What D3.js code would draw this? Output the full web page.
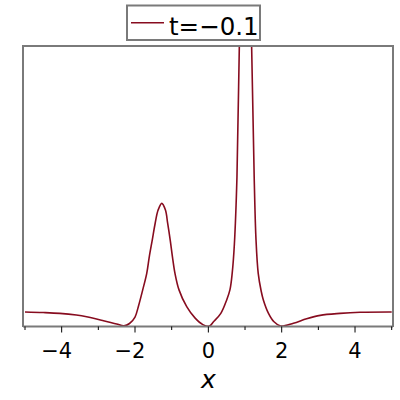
<!DOCTYPE html>
<html>
<head>
<meta charset="utf-8">
<script src="https://cdn.jsdelivr.net/npm/d3@7"></script>
<style>
  html, body { margin: 0; padding: 0; background: #fff; }
  svg { display: block; font-family: "DejaVu Sans", sans-serif; }
</style>
</head>
<body>
<div id="chart"></div>
<script>
// curve, t = -0.1 (y has no labels, arbitrary units)
const xs = [-5, -4.5, -4.05, -3.6, -3.32, -2.86, -2.5, -2.3, -2.15, -2.0, -1.91, -1.79,
  -1.68, -1.61, -1.53, -1.45, -1.37, -1.27, -1.17, -1.11, -1.04, -0.98, -0.91, -0.8,
  -0.59, -0.36, -0.15, 0.03, 0.14, 0.34, 0.5, 0.59, 0.65, 0.71, 0.78, 0.845, 0.93,
  1.01, 1.09, 1.18, 1.25, 1.3, 1.36, 1.44, 1.5, 1.64, 1.79, 1.97, 2.32, 2.68, 3.05, 3.59,
  4.14, 5];
const ys = [0.05, 0.048, 0.045, 0.039, 0.033, 0.019, 0.007, 0.001, 0.009, 0.032, 0.069, 0.129,
  0.188, 0.248, 0.307, 0.367, 0.414, 0.438, 0.414, 0.367, 0.307, 0.248, 0.188, 0.129,
  0.069, 0.028, 0.005, 0.0, 0.015, 0.045, 0.093, 0.13, 0.188, 0.293, 0.531, 1.0, 1.5,
  1.9, 1.5, 1.0, 0.531, 0.307, 0.188, 0.125, 0.093, 0.045, 0.015, 0.0, 0.01, 0.026, 0.038, 0.045,
  0.049, 0.05];
const legendLabel = "t=\u22120.1";
const majorTicks = [-4, -2, 0, 2, 4];
const minorTicks = [-5, -3, -1, 1, 3, 5];

const width = 400;
const height = 400;
const frame = { left: 23, right: 393, top: 46, bottom: 327 };
const lineColor = "#870c1f";
const gray = "#7a7a7a";

const svg = d3.select("#chart").append("svg")
  .attr("width", width)
  .attr("height", height);

const x = d3.scaleLinear().domain([-5, 5]).range([25, 391.7]);
const y = d3.scaleLinear().domain([0, 1]).range([326, 46]);

svg.append("clipPath").attr("id", "clip")
  .append("rect")
  .attr("x", frame.left)
  .attr("y", frame.top)
  .attr("width", frame.right - frame.left)
  .attr("height", frame.bottom - frame.top);

const pts = xs.map((v, i) => [v, ys[i]]);
const line = d3.line()
  .x((d) => x(d[0]))
  .y((d) => y(d[1]))
  .curve(d3.curveCatmullRom.alpha(0.5));

svg.append("path")
  .datum(pts)
  .attr("clip-path", "url(#clip)")
  .attr("fill", "none")
  .attr("stroke", lineColor)
  .attr("stroke-width", 1.6)
  .attr("d", line);

// box: left, top, right
svg.append("path")
  .attr("d", `M${frame.left},${frame.bottom}V${frame.top}H${frame.right}V${frame.bottom}`)
  .attr("fill", "none")
  .attr("stroke", gray)
  .attr("stroke-width", 2);

// x axis
const axis = svg.append("g").attr("transform", `translate(0,${frame.bottom - 0.5})`);
axis.append("line")
  .attr("x1", frame.left).attr("x2", frame.right)
  .attr("stroke", gray).attr("stroke-width", 2);

axis.selectAll(".minor").data(minorTicks).join("line")
  .attr("class", "minor")
  .attr("x1", (d) => x(d)).attr("x2", (d) => x(d))
  .attr("y1", 0).attr("y2", 3.5)
  .attr("stroke", "#000").attr("stroke-width", 1);

axis.selectAll(".major").data(majorTicks).join("line")
  .attr("class", "major")
  .attr("x1", (d) => x(d)).attr("x2", (d) => x(d))
  .attr("y1", 0).attr("y2", 6)
  .attr("stroke", "#000").attr("stroke-width", 1);

svg.selectAll(".tick-label").data(majorTicks).join("text")
  .attr("class", "tick-label")
  .attr("x", (d) => x(d) - (d < 0 ? 5 : 0))
  .attr("y", 358)
  .attr("text-anchor", "middle")
  .attr("font-size", 21)
  .text((d) => (d < 0 ? "\u2212" + Math.abs(d) : String(d)));

svg.append("text")
  .attr("x", x(0))
  .attr("y", 388)
  .attr("text-anchor", "middle")
  .attr("font-size", 25)
  .attr("font-style", "italic")
  .text("x");

// legend
const legend = svg.append("g");
legend.append("rect")
  .attr("x", 127).attr("y", 5.5)
  .attr("width", 133).attr("height", 34.5)
  .attr("fill", "#fff")
  .attr("stroke", gray).attr("stroke-width", 2);
legend.append("line")
  .attr("x1", 131).attr("x2", 164)
  .attr("y1", 22.7).attr("y2", 22.7)
  .attr("stroke", lineColor).attr("stroke-width", 1.6);
legend.append("text")
  .attr("x", 169)
  .attr("y", 34.5)
  .attr("font-size", 24.5)
  .text(legendLabel);
</script>
</body>
</html>
